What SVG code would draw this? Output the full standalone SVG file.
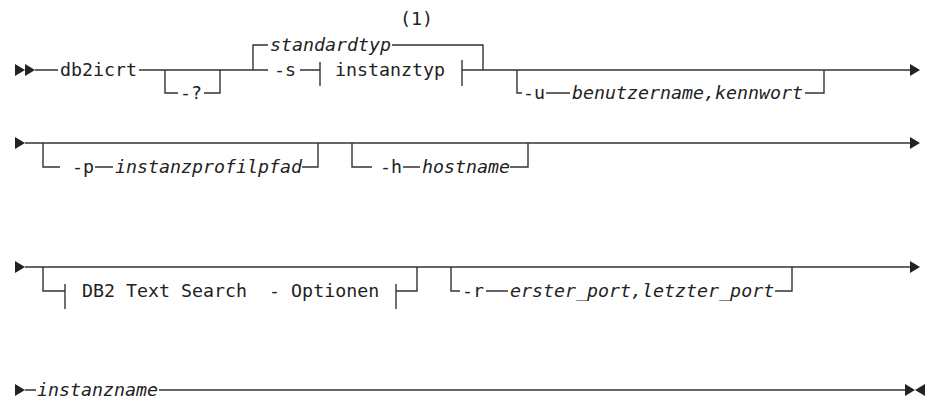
<svg xmlns="http://www.w3.org/2000/svg" width="927" height="399" viewBox="0 0 927 399">
<style>
text{font-family:"DejaVu Sans Mono","Liberation Mono",monospace;font-size:18.3px;fill:#222}
.i{font-style:italic}
.l{fill:none;stroke:#333;stroke-width:1.4}
.a{fill:#222}
</style>
<rect width="927" height="399" fill="#fff"/>
<g id="connectors">
<path class="l" d="M35 70H58M139 70H268M165 70V93H178M204 93H220V70M253 70V45H268M392 45H483V70M300 70H320M320 62V86M462 60V86M462 70H910M517 70V93H522M546 93H570M805 93H824V70"/>
<path class="l" d="M25 143H910M43 143V167H60M95 167H113M302 167H318V143M352 143V167H372M403 167H420M510 167H528V143"/>
<path class="l" d="M25 267H910M43 267V291H65M65 284V309M396 284V309M396 291H417V267M451 267V291H460M486 291H508M775 291H792V267"/>
<path class="l" d="M25 390H36M159 390H906"/>
</g>
<g id="markers">
<path class="a" d="M15 64L25 70L15 76ZM25 64L35 70L25 76Z"/>
<path class="a" d="M910 64L920 70L910 76Z"/>
<path class="a" d="M15 137L25 143L15 149Z"/>
<path class="a" d="M910 137L920 143L910 149Z"/>
<path class="a" d="M15 261L25 267L15 273Z"/>
<path class="a" d="M910 261L920 267L910 273Z"/>
<path class="a" d="M15 384L25 390L15 396Z"/>
<path class="a" d="M905 384L915 390L905 396ZM925 384L915 390L925 396Z"/>
</g>
<g id="n-db2icrt"><text x="60" y="76">db2icrt</text></g>
<g id="n-help"><text x="180" y="99">-?</text></g>
<g id="n-note"><text x="400" y="25">(1)</text></g>
<g id="n-standardtyp"><text class="i" x="270" y="51">standardtyp</text></g>
<g id="n-s"><text x="274" y="76">-s</text></g>
<g id="n-instanztyp"><text x="335" y="76">instanztyp</text></g>
<g id="n-u"><text x="523" y="99">-u</text><text class="i" x="572" y="99">benutzername,kennwort</text></g>
<g id="n-p"><text x="72" y="173">-p</text><text class="i" x="115" y="173">instanzprofilpfad</text></g>
<g id="n-h"><text x="380" y="173">-h</text><text class="i" x="422" y="173">hostname</text></g>
<g id="n-db2ts"><text x="82" y="297" xml:space="preserve">DB2 Text Search  - Optionen</text></g>
<g id="n-r"><text x="462" y="297">-r</text><text class="i" x="510" y="297">erster_port,letzter_port</text></g>
<g id="n-instanzname"><text class="i" x="37" y="396">instanzname</text></g>
</svg>
